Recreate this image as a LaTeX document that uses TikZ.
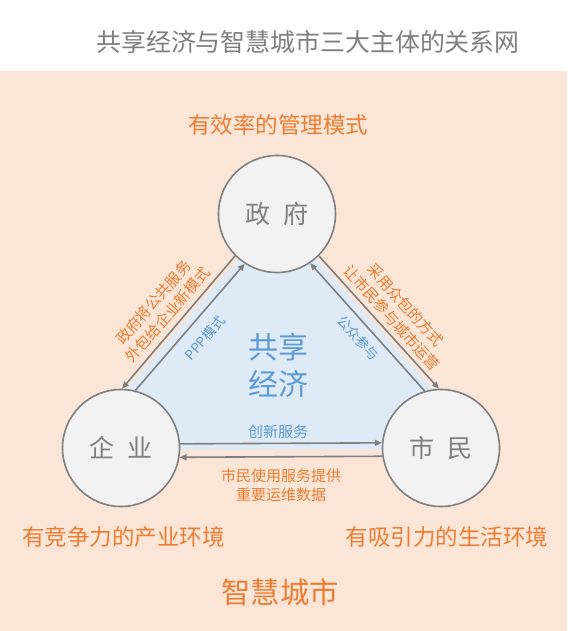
\documentclass[tikz,border=0pt]{standalone}
\usepackage{fontspec}
\setmainfont{Noto Sans CJK SC}
\usetikzlibrary{arrows.meta}
\definecolor{peach}{HTML}{FBE5D6}
\definecolor{lblue}{HTML}{DEEBF7}
\definecolor{orng}{HTML}{ED7D31}
\definecolor{bluetxt}{HTML}{5B9BD5}
\definecolor{gry}{HTML}{7F7F7F}
\definecolor{cfill}{HTML}{F2F2F2}
\begin{document}
\begin{tikzpicture}[x=1pt,y=-1pt,
  actor/.style={circle, draw=gry, line width=1.6pt, fill=cfill, minimum size=117pt, inner sep=0pt, text=gry, font=\fontsize{25}{28}\selectfont},
  link/.style={draw=gry, line width=1.6pt, -{Triangle[length=7pt,width=6pt]}},
  olabel/.style={text=orng, font=\fontsize{15}{19}\selectfont, align=center, inner sep=0pt},
  blabel/.style={text=bluetxt, font=\fontsize{13.5}{16}\selectfont, inner sep=0pt},
  biglabel/.style={text=orng, font=\fontsize{22.5}{26}\selectfont, inner sep=0pt}]
\useasboundingbox (0,0) rectangle (567,631);
\fill[white] (0,0) rectangle (567,71);
\fill[peach] (0,71) rectangle (567,631);
% shared-economy triangle
\fill[lblue] (277,214) -- (74,450) -- (487,450) -- cycle;
% title
\node[text=gry, font=\fontsize{24.9}{28}\selectfont, inner sep=0pt] (title) at (308,41.5) {共享经济与智慧城市三大主体的关系网};
% actors
\node[actor] (zf) at (277,214) {政\hspace{13pt}府};
\node[actor] (qy) at (121,448) {企\hspace{13pt}业};
\node[actor] (sm) at (441,448) {市\hspace{13pt}民};
% connectors
\draw[link] (zf.225.7) -- (qy.89);
\draw[link] (qy.76.7) -- (zf.237);
\draw[link] (zf.315.6) -- (sm.92.8);
\draw[link] (sm.106.7) -- (zf.304.5);
\draw[link] (qy.4.9) -- (sm.175.1);
\draw[link] (sm.188.8) -- (qy.351.2);
% connector labels
\node[olabel, rotate=49] (l1) at (160.5,308.5) {政府将公共服务\\外包给企业新模式};
\node[blabel, rotate=49] (l2) at (205,338) {PPP模式};
\node[blabel, rotate=-48] (l3) at (358,338) {公众参与};
\node[olabel, rotate=-48] (l4) at (398.5,311.5) {采用众包的方式\\让市民参与城市运营};
\node[blabel, font=\fontsize{15}{18}\selectfont] (l5) at (278,432) {创新服务};
\node[olabel] (l6) at (281,485.5) {市民使用服务提供\\重要运维数据};
% center text
\node[text=bluetxt, font=\fontsize{30}{37}\selectfont, align=center, inner sep=0pt] (se) at (278,365.5) {共享\\经济};
% goals
\node[biglabel] (g1) at (278,125) {有效率的管理模式};
\node[biglabel] (g2) at (123.3,537) {有竞争力的产业环境};
\node[biglabel] (g3) at (446.8,537) {有吸引力的生活环境};
\node[text=orng, font=\fontsize{29.3}{33}\selectfont, inner sep=0pt] (sc) at (280,592) {智慧城市};
\end{tikzpicture}
\end{document}
